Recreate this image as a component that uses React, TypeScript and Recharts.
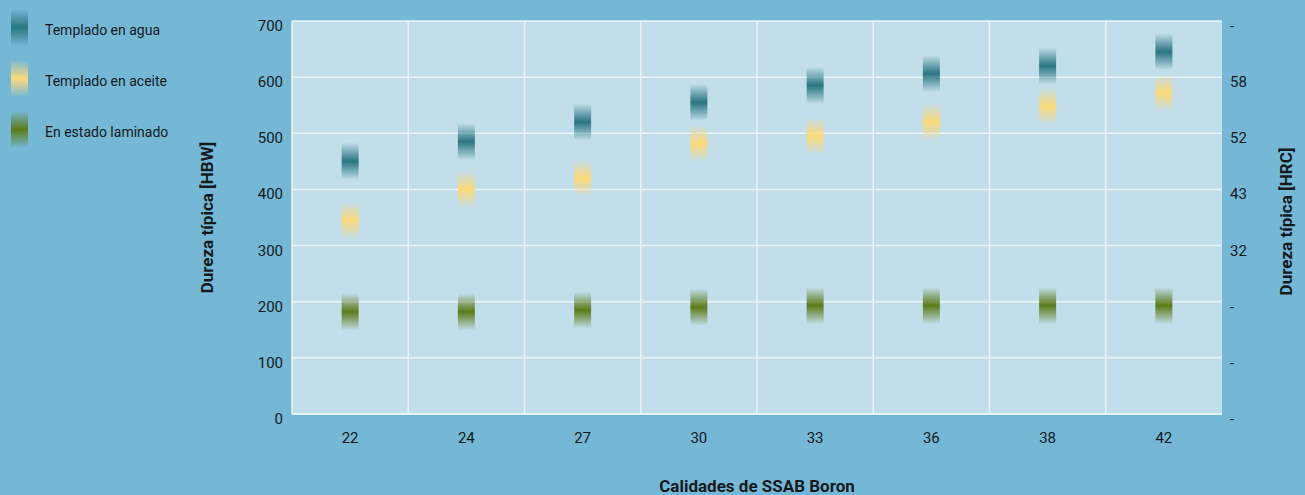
import React from 'react';
import { ComposedChart, Scatter, XAxis, YAxis, CartesianGrid, Legend, Label } from 'recharts';

const grades = ['22', '24', '27', '30', '33', '36', '38', '42'];
const waterQuenched = [450, 485, 520, 555, 585, 606, 620, 645];
const oilQuenched = [345, 400, 420, 482, 495, 520, 548, 572];
const asRolled = [182, 182, 185, 190, 193, 193, 193, 193];
const hbwTicks = [0, 100, 200, 300, 400, 500, 600, 700];
const hrcTickLabels = ['-', '-', '-', '32', '43', '52', '58', '-'];
const seriesNames = ['Templado en agua', 'Templado en aceite', 'En estado laminado'];
const seriesKeys = ['agua', 'aceite', 'laminado'];
const seriesColors = ['#2a7681', '#fcd978', '#5c7b18'];

const data = grades.map((g, i) => ({
  grade: g,
  agua: waterQuenched[i],
  aceite: oilQuenched[i],
  laminado: asRolled[i],
}));

const FONT = 'Roboto, "DejaVu Sans", sans-serif';
const BG = '#74b8d6';
const PLOT = '#c1deea';
const GRID = '#eaf4f8';
const TEXT = '#15191c';

const gradStops = (color: string) => [
  <stop key="a" offset="0%" stopColor={color} stopOpacity={0} />,
  <stop key="b" offset="22%" stopColor={color} stopOpacity={0.45} />,
  <stop key="c" offset="50%" stopColor={color} stopOpacity={1} />,
  <stop key="d" offset="78%" stopColor={color} stopOpacity={0.45} />,
  <stop key="e" offset="100%" stopColor={color} stopOpacity={0} />,
];

const makeShape = (gid: string) => (props: any) => {
  const { cx, cy } = props;
  if (cx == null || cy == null) return <g />;
  return <rect x={cx - 8.5} y={cy - 18.5} width={17} height={37} fill={`url(#${gid})`} />;
};

const emptyShape = () => <g />;

// vertical grid lines sit on the boundaries between categories (band starts)
const boundaryGenerator = (args: any) => {
  const { xAxis, offset } = args || {};
  const s = xAxis && xAxis.scale;
  if (s && typeof s === 'function' && typeof s.bandwidth === 'function') {
    return grades.slice(1).map((g) => s(g));
  }
  const left = offset?.left ?? 0;
  const w = offset?.width ?? 0;
  return grades.slice(1).map((_, i) => left + (w * (i + 1)) / grades.length);
};

const LeftTick = (props: any) => {
  const { x, y, payload } = props;
  return (
    <text x={x} y={y + 5} textAnchor="end" dominantBaseline="central" fill={TEXT} fontSize={15} fontFamily={FONT}>
      {payload.value}
    </text>
  );
};

const RightTick = (props: any) => {
  const { x, y, payload } = props;
  const label = hrcTickLabels[hbwTicks.indexOf(Number(payload.value))];
  return (
    <text x={x} y={y + 5} textAnchor="start" dominantBaseline="central" fill={TEXT} fontSize={15} fontFamily={FONT}>
      {label}
    </text>
  );
};

const BottomTick = (props: any) => {
  const { x, y, payload } = props;
  return (
    <text x={x} y={y + 8} textAnchor="middle" dominantBaseline="central" fill={TEXT} fontSize={15} fontFamily={FONT}>
      {payload.value}
    </text>
  );
};

const rotatedTitle = (text: string, dx: number, dy: number) => (p: any) => {
  const vb = p.viewBox;
  const x = vb.x + dx;
  const y = vb.y + vb.height / 2 + dy;
  return (
    <text
      x={x}
      y={y}
      transform={`rotate(-90 ${x} ${y})`}
      textAnchor="middle"
      dominantBaseline="central"
      fill={TEXT}
      fontSize={17}
      fontWeight="bold"
      fontFamily={FONT}
    >
      {text}
    </text>
  );
};

const LegendContent = () => (
  <div style={{ fontFamily: FONT, fontSize: 14, color: TEXT }}>
    {seriesNames.map((name, i) => (
      <div key={name} style={{ position: 'absolute', left: 0, top: i * 51, height: 51, width: 200 }}>
        <svg width={30} height={51} style={{ position: 'absolute', left: 0, top: 0 }}>
          <defs>
            <linearGradient id={`lg-${seriesKeys[i]}`} x1="0" y1="0" x2="0" y2="1">
              {gradStops(seriesColors[i])}
            </linearGradient>
          </defs>
          <rect x={11} y={9} width={17} height={37} fill={`url(#lg-${seriesKeys[i]})`} />
        </svg>
        <span style={{ position: 'absolute', left: 45, top: 22, whiteSpace: 'nowrap', lineHeight: '16px' }}>{name}</span>
      </div>
    ))}
  </div>
);

export default function App() {
  return (
    <div style={{ position: 'absolute', left: 0, top: 0, width: 1305, height: 495, background: BG, fontFamily: FONT }}>
      <ComposedChart width={1305} height={495} data={data} margin={{ top: 21, right: 0, bottom: 0, left: 0 }}>
        <defs>
          {seriesKeys.map((k, i) => (
            <linearGradient key={k} id={`g-${k}`} x1="0" y1="0" x2="0" y2="1">
              {gradStops(seriesColors[i])}
            </linearGradient>
          ))}
        </defs>
        <CartesianGrid
          yAxisId="left"
          stroke={GRID}
          strokeWidth={1.5}
          fill={PLOT}
          fillOpacity={1}
          verticalCoordinatesGenerator={boundaryGenerator}
        />
        <XAxis
          dataKey="grade"
          type="category"
          scale="band"
          height={81}
          axisLine={{ stroke: GRID, strokeWidth: 1.5 }}
          tickLine={false}
          tickMargin={10}
          tick={<BottomTick />}
        >
          <Label
            content={(p: any) => {
              const vb = p.viewBox;
              return (
                <text
                  x={vb.x + vb.width / 2}
                  y={vb.y + 72}
                  textAnchor="middle"
                  dominantBaseline="central"
                  fill={TEXT}
                  fontSize={17}
                  fontWeight="bold"
                  fontFamily={FONT}
                >
                  Calidades de SSAB Boron
                </text>
              );
            }}
          />
        </XAxis>
        <YAxis
          yAxisId="left"
          width={292}
          domain={[0, 700]}
          ticks={hbwTicks}
          interval={0}
          axisLine={{ stroke: GRID, strokeWidth: 1.5 }}
          tickLine={false}
          tickMargin={3}
          tick={<LeftTick />}
        >
          <Label content={rotatedTitle('Dureza típica [HBW]', 292 - 85.5, 0)} />
        </YAxis>
        <YAxis
          yAxisId="right"
          orientation="right"
          width={83}
          domain={[0, 700]}
          ticks={hbwTicks}
          interval={0}
          axisLine={false}
          tickLine={false}
          tick={<RightTick />}
        >
          <Label content={rotatedTitle('Dureza típica [HRC]', 63.5, 4)} />
        </YAxis>
        <Legend
          layout="horizontal"
          verticalAlign="middle"
          align="center"
          content={() => <LegendContent />}
          wrapperStyle={{ position: 'absolute', left: 0, top: 0, width: 200, height: 160 }}
        />
        {seriesKeys.map((k, i) => (
          <Scatter
            key={k}
            name={seriesNames[i]}
            dataKey={k}
            yAxisId="left"
            fill={seriesColors[i]}
            shape={makeShape(`g-${k}`)}
            isAnimationActive={false}
          />
        ))}
        {/* HRC scale shares the HBW domain; an invisible series binds the right axis */}
        <Scatter
          dataKey="agua"
          yAxisId="right"
          shape={emptyShape}
          legendType="none"
          isAnimationActive={false}
        />
      </ComposedChart>
    </div>
  );
}
